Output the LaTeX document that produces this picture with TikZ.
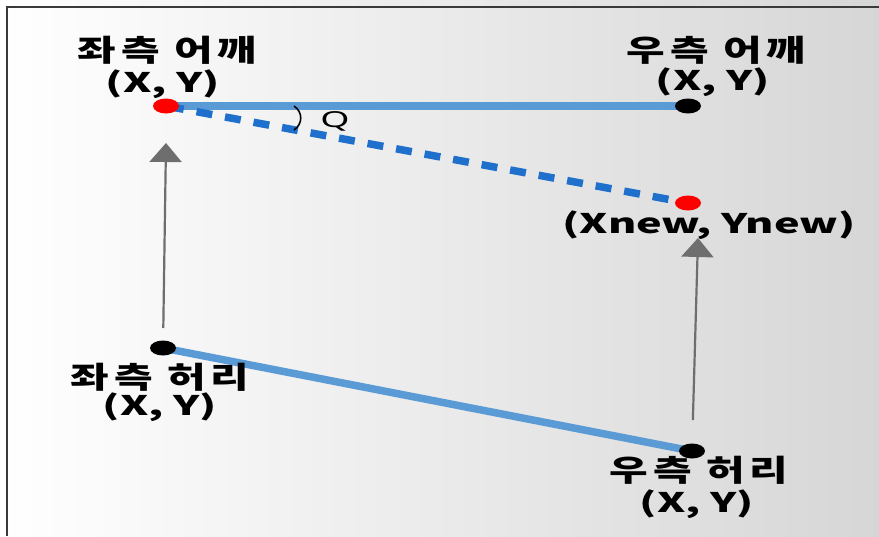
\documentclass[tikz,border=0pt]{standalone}
\usepackage{fontspec}
\newfontfamily\krfont[FakeStretch=1.4,LetterSpace=16]{Noto Sans CJK KR}
\newfontfamily\latfont[FakeStretch=1.6]{Noto Sans CJK KR}
\newfontfamily\qfont[FakeStretch=1.7]{Noto Sans}
\usetikzlibrary{arrows.meta,shapes.geometric}
\definecolor{lineblue}{HTML}{5B9BD5}
\definecolor{dashblue}{HTML}{1F70CC}
\definecolor{arrowgray}{HTML}{6E6E6E}
\definecolor{framegray}{HTML}{3A3A3A}
\begin{document}
\begin{tikzpicture}[x=1pt,y=-1pt,
  krlabel/.style={font=\krfont\bfseries\fontsize{30}{32}\selectfont, inner sep=0pt},
  latlabel/.style={font=\latfont\bfseries\fontsize{27}{30}\selectfont, inner sep=0pt},
  qlabel/.style={font=\qfont\fontsize{22}{24}\selectfont, inner sep=0pt},
  dotnode/.style={ellipse, minimum width=26pt, minimum height=15pt, inner sep=0pt},
  reddot/.style={dotnode, fill=red},
  blackdot/.style={dotnode, fill=black},
  solidseg/.style={draw=lineblue, line width=7.5pt},
  dashseg/.style={draw=dashblue, line width=7.5pt, dash pattern=on 16pt off 13pt, dash phase=-2pt},
  uparrow/.style={draw=arrowgray, line width=2.2pt, -{Triangle[length=19pt,width=32pt]}}
]
\useasboundingbox (0,0) rectangle (879,536);
\shade[left color=white, right color=black!16] (0,0) rectangle (879,536);
\draw[framegray, line width=2pt] (7,536) -- (7,7) -- (879,7);

% connector end points
\coordinate (lsc) at (166,106);
\coordinate (rsc) at (688,106);
\coordinate (nwc) at (688,203);
\coordinate (lwc) at (163,348);
\coordinate (rwc) at (692,451);
\coordinate (ltip) at (166,143);
\coordinate (rtip) at (698,238);

\draw[solidseg] (lsc) -- (rsc);
\draw[dashseg] (lsc) -- (nwc);
\draw[solidseg] (lwc) -- (rwc);
\draw[uparrow, shorten <=20pt] (lwc) -- (ltip);
\draw[uparrow, shorten <=31pt] (rwc) -- (rtip);

% angle mark
\draw[black, line width=1.6pt] (294,106) .. controls (303,112) and (303,124) .. (294,130);

% dots
\node[reddot] (ls) at (lsc) {};
\node[blackdot] (rs) at (rsc) {};
\node[reddot] (nw) at (nwc) {};
\node[blackdot] (lw) at (lwc) {};
\node[blackdot] (rw) at (rwc) {};

% labels
\node[krlabel] (t1) at (167,50) {좌측 어깨};
\node[latlabel] (t1b) at (163,84) {(X, Y)};
\node[krlabel] (t2) at (716,50) {우측 어깨};
\node[latlabel] (t2b) at (713,82) {(X, Y)};
\node[latlabel] (t3) at (709,225) {(Xnew, Ynew)};
\node[krlabel] (t4) at (160,377) {좌측 허리};
\node[latlabel] (t4b) at (160,407) {(X, Y)};
\node[krlabel] (t5) at (699,470) {우측 허리};
\node[latlabel] (t5b) at (697,504) {(X, Y)};
\node[qlabel] (q) at (335,121) {Q};
\end{tikzpicture}
\end{document}
